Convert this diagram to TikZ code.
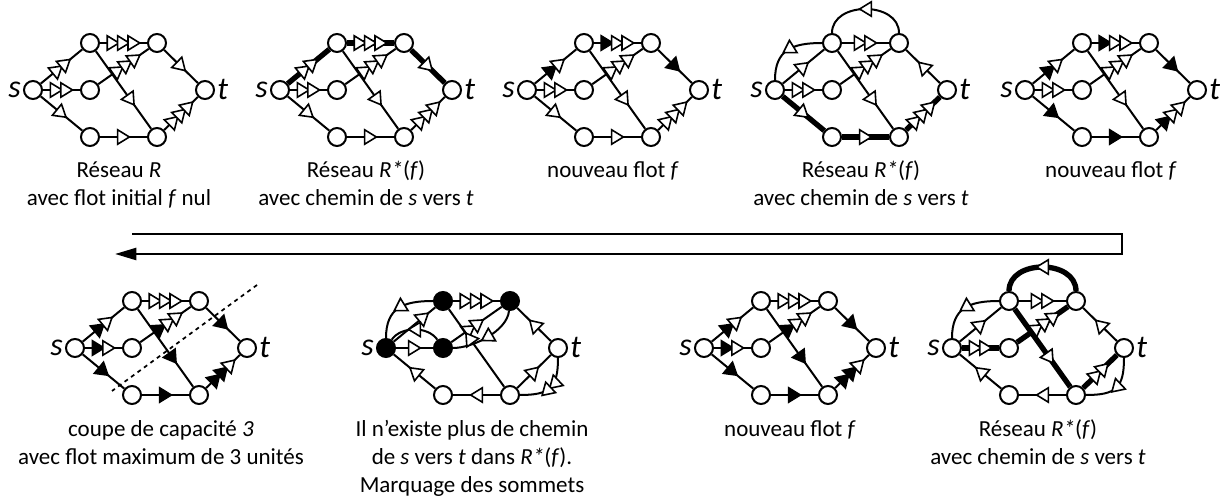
\documentclass[tikz,border=0pt]{standalone}
\usepackage{fontspec}
\setmainfont{Carlito}
\usetikzlibrary{decorations.markings,arrows.meta}
\newcommand\Tri[2]{\draw[xshift=#1,fill=#2,line width=1.2pt,line join=miter] (-4.4pt,5.4pt) -- (4.4pt,0pt) -- (-4.4pt,-5.4pt) -- cycle;}
\tikzset{
 vtx/.style={circle,draw,fill=white,line width=1.5pt,minimum size=13.5pt,inner sep=0pt},
 mvtx/.style={vtx,fill=black},
 lab/.style={font=\fontsize{24}{24}\selectfont\itshape,inner sep=0.5pt},
 e/.style={line width=1.5pt},
 th/.style={line width=4pt},
 t1/.style n args={2}{postaction={decorate,decoration={markings,mark=at position #1 with {\Tri{0pt}{#2}}}}},
 t2/.style n args={3}{postaction={decorate,decoration={markings,mark=at position #1 with {\Tri{-3.9pt}{#2}\Tri{3.9pt}{#3}}}}},
 t3/.style n args={4}{postaction={decorate,decoration={markings,mark=at position #1 with {\Tri{-7.8pt}{#2}\Tri{0pt}{#3}\Tri{7.8pt}{#4}}}}},
 txt/.style={font=\fontsize{17.25}{21}\selectfont,align=center,anchor=base,inner sep=0pt},
}
\newcommand\G[4]{%
 \node[#4,label={[lab,label distance=1pt]left:s}] (#1s) at (#2,#3) {};
 \node[#4] (#1A) at ({#2+57},{#3-47}) {};
 \node[#4] (#1B) at ({#2+57},#3) {};
 \node[#4] (#1C) at ({#2+124},{#3-47}) {};
 \node[vtx] (#1D) at ({#2+57},{#3+47}) {};
 \node[vtx] (#1E) at ({#2+124},{#3+47}) {};
 \node[vtx,label={[lab,label distance=1pt]right:t}] (#1t) at ({#2+172},#3) {};
}
\begin{document}
\begin{tikzpicture}[x=0.75pt,y=-0.75pt]
\useasboundingbox (0,0) rectangle (1222,498);
% ---------- top row ----------
\G{ga}{33}{90}{vtx}
\draw[e,t2={.5}{white}{white}] (gas)--(gaA);
\draw[e,t2={.5}{white}{white}] (gas)--(gaB);
\draw[e,t1={.5}{white}] (gas)--(gaD);
\draw[e,t3={.5}{white}{white}{white}] (gaA)--(gaC);
\draw[e,t3={.56}{white}{white}{white}] (gaB)--(gaC);
\draw[e,t1={.63}{white}] (gaA)--(gaE);
\draw[e,t1={.5}{white}] (gaC)--(gat);
\draw[e,t1={.5}{white}] (gaD)--(gaE);
\draw[e,t3={.5}{white}{white}{white}] (gaE)--(gat);
\node[txt] (la1) at (119,206) {Réseau \textit{R}\\avec flot initial \textit{f} nul};

\G{gb}{280}{90}{vtx}
\draw[th,t2={.5}{white}{white}] (gbs)--(gbA);
\draw[e,t2={.5}{white}{white}] (gbs)--(gbB);
\draw[e,t1={.5}{white}] (gbs)--(gbD);
\draw[th,t3={.5}{white}{white}{white}] (gbA)--(gbC);
\draw[e,t3={.56}{white}{white}{white}] (gbB)--(gbC);
\draw[e,t1={.63}{white}] (gbA)--(gbE);
\draw[th,t1={.5}{white}] (gbC)--(gbt);
\draw[e,t1={.5}{white}] (gbD)--(gbE);
\draw[e,t3={.5}{white}{white}{white}] (gbE)--(gbt);
\node[txt] (la2) at (366,206) {Réseau \textit{R*}(\textit{f})\\avec chemin de \textit{s} vers \textit{t}};

\G{gc}{527}{90}{vtx}
\draw[e,t2={.5}{black}{white}] (gcs)--(gcA);
\draw[e,t2={.5}{white}{white}] (gcs)--(gcB);
\draw[e,t1={.5}{white}] (gcs)--(gcD);
\draw[e,t3={.5}{black}{white}{white}] (gcA)--(gcC);
\draw[e,t3={.56}{white}{white}{white}] (gcB)--(gcC);
\draw[e,t1={.63}{white}] (gcA)--(gcE);
\draw[e,t1={.5}{black}] (gcC)--(gct);
\draw[e,t1={.5}{white}] (gcD)--(gcE);
\draw[e,t3={.5}{white}{white}{white}] (gcE)--(gct);
\node[txt] (la3) at (613,178) {nouveau flot \textit{f}};

\G{gd}{775}{90}{vtx}
\draw[e,t1={.5}{white}] (gds)--(gdA);
\draw[e,t1={.5}{white}] (gdA) .. controls +(-40,0) and +(0,-40) .. (gds);
\draw[e,t2={.5}{white}{white}] (gds)--(gdB);
\draw[th,t1={.5}{white}] (gds)--(gdD);
\draw[e,t2={.5}{white}{white}] (gdA)--(gdC);
\draw[e,t1={.5}{white}] (gdC) .. controls +(0,-42) and +(0,-42) .. (gdA);
\draw[e,t3={.56}{white}{white}{white}] (gdB)--(gdC);
\draw[e,t1={.63}{white}] (gdA)--(gdE);
\draw[e,t1={.5}{white}] (gdt)--(gdC);
\draw[th,t1={.5}{white}] (gdD)--(gdE);
\draw[th,t3={.5}{white}{white}{white}] (gdE)--(gdt);
\node[txt] (la4) at (861,206) {Réseau \textit{R*}(\textit{f})\\avec chemin de \textit{s} vers \textit{t}};

\G{ge}{1025}{90}{vtx}
\draw[e,t2={.5}{black}{white}] (ges)--(geA);
\draw[e,t2={.5}{white}{white}] (ges)--(geB);
\draw[e,t1={.5}{black}] (ges)--(geD);
\draw[e,t3={.5}{black}{white}{white}] (geA)--(geC);
\draw[e,t3={.56}{white}{white}{white}] (geB)--(geC);
\draw[e,t1={.63}{white}] (geA)--(geE);
\draw[e,t1={.5}{black}] (geC)--(get);
\draw[e,t1={.5}{black}] (geD)--(geE);
\draw[e,t3={.5}{black}{white}{white}] (geE)--(get);
\node[txt] (la5) at (1111,178) {nouveau flot \textit{f}};

% ---------- long arrow ----------
\coordinate (r1) at (132,234);
\coordinate (r2) at (1122,234);
\coordinate (r3) at (1122,254);
\coordinate (r4) at (115,254);
\draw[line width=1.8pt,-{Triangle[length=16pt,width=9pt]}] (r1) -- (r2) -- (r3) -- (r4);

% ---------- bottom row ----------
\G{gp}{75}{348}{vtx}
\draw[e,t2={.5}{black}{white}] (gps)--(gpA);
\draw[e,t2={.5}{black}{white}] (gps)--(gpB);
\draw[e,t1={.5}{black}] (gps)--(gpD);
\draw[e,t3={.5}{white}{white}{white}] (gpA)--(gpC);
\draw[e,t3={.56}{black}{white}{white}] (gpB)--(gpC);
\draw[e,t1={.63}{black}] (gpA)--(gpE);
\draw[e,t1={.5}{black}] (gpC)--(gpt);
\draw[e,t1={.5}{black}] (gpD)--(gpE);
\draw[e,t3={.5}{black}{black}{white}] (gpE)--(gpt);
\coordinate (cut1) at (257,285);
\coordinate (cut2) at (112,391);
\draw[line width=1.3pt,dashed] (cut1) -- (cut2);
\node[txt] (lb1) at (161,465) {coupe de capacité \textit{3}\\avec flot maximum de 3 unités};

\G{gq}{386}{348}{mvtx}
\draw[e,t1={.72}{white}] (gqs)--(gqA);
\draw[e,t1={.5}{white}] (gqA) .. controls +(-40,0) and +(0,-40) .. (gqs);
\draw[e,t1={.5}{white}] (gqs)--(gqB);
\draw[e,t1={.5}{white}] (gqB) .. controls +(-15,-22) and +(15,-22) .. (gqs);
\draw[e,t1={.5}{white}] (gqD)--(gqs);
\draw[e,t3={.5}{white}{white}{white}] (gqA)--(gqC);
\draw[e,t2={.45}{white}{white}] (gqB)--(gqC);
\draw[e,t1={.5}{white}] (gqC) .. controls +(-3,30) and +(30,0) .. (gqB);
\draw[e,t1={.63}{white}] (gqE)--(gqA);
\draw[e,t1={.5}{white}] (gqt)--(gqC);
\draw[e,t1={.5}{white}] (gqE)--(gqD);
\draw[e,t1={.5}{white}] (gqE)--(gqt);
\draw[e,t2={.5}{white}{white}] (gqt) .. controls +(0,40) and +(40,0) .. (gqE);
\node[txt] (lb2) at (472,493) {Il n’existe plus de chemin\\de \textit{s} vers \textit{t} dans \textit{R*}(\textit{f}).\\Marquage des sommets};

\G{gr}{704}{348}{vtx}
\draw[e,t2={.5}{black}{white}] (grs)--(grA);
\draw[e,t2={.5}{black}{white}] (grs)--(grB);
\draw[e,t1={.5}{black}] (grs)--(grD);
\draw[e,t3={.5}{white}{white}{white}] (grA)--(grC);
\draw[e,t3={.56}{black}{white}{white}] (grB)--(grC);
\draw[e,t1={.63}{black}] (grA)--(grE);
\draw[e,t1={.5}{black}] (grC)--(grt);
\draw[e,t1={.5}{black}] (grD)--(grE);
\draw[e,t3={.5}{black}{black}{white}] (grE)--(grt);
\node[txt] (lb3) at (790,437) {nouveau flot \textit{f}};

\G{gu}{952}{348}{vtx}
\draw[e,t1={.5}{white}] (gus)--(guA);
\draw[e,t1={.5}{white}] (guA) .. controls +(-40,0) and +(0,-40) .. (gus);
\draw[th,t2={.5}{white}{white}] (gus)--(guB);
\draw[e,t1={.5}{white}] (guD)--(gus);
\draw[e,t2={.5}{white}{white}] (guA)--(guC);
\draw[th,t1={.5}{white}] (guC) .. controls +(0,-42) and +(0,-42) .. (guA);
\draw[th,t3={.56}{white}{white}{white}] (guB)--(guC);
\draw[th,t1={.63}{white}] (guA)--(guE);
\draw[e,t1={.5}{white}] (gut)--(guC);
\draw[e,t1={.5}{white}] (guE)--(guD);
\draw[th,t2={.5}{white}{white}] (guE)--(gut);
\draw[e,t1={.5}{white}] (gut) .. controls +(0,40) and +(40,0) .. (guE);
\node[txt] (lb4) at (1038,465) {Réseau \textit{R*}(\textit{f})\\avec chemin de \textit{s} vers \textit{t}};
\end{tikzpicture}
\end{document}
